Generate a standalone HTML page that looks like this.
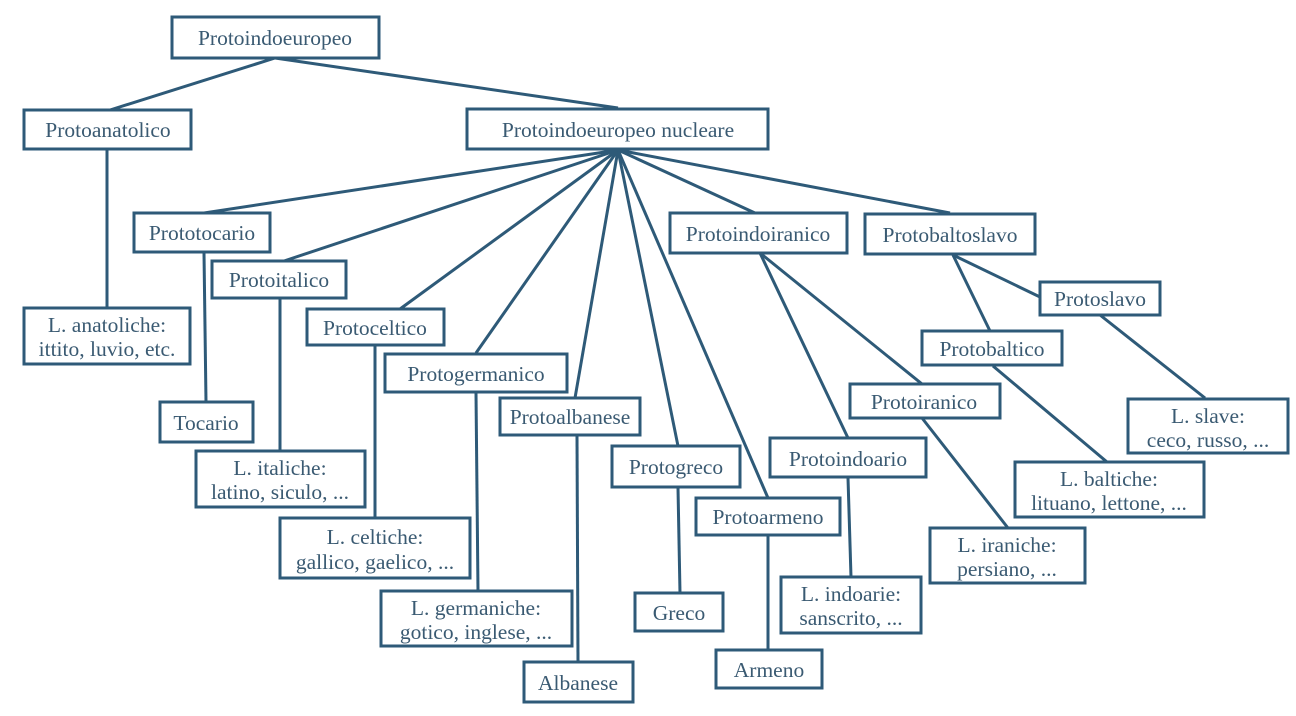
<!DOCTYPE html>
<html><head><meta charset="utf-8"><style>
html,body{margin:0;padding:0;background:#fff;}
svg{display:block}
text{font-family:"Liberation Serif",serif;font-size:21.5px;fill:#3a5a72;text-anchor:middle}
rect{fill:#fff;stroke:#2e5a78;stroke-width:3}
line{stroke:#2e5a78;stroke-width:3}
</style></head><body>
<svg width="1296" height="716" viewBox="0 0 1296 716">
<g>
<line x1="275" y1="58" x2="110" y2="110"/>
<line x1="275" y1="58" x2="618" y2="108"/>
<line x1="107" y1="150" x2="107" y2="308"/>
<line x1="618" y1="150" x2="204" y2="213"/>
<line x1="618" y1="150" x2="284" y2="261"/>
<line x1="618" y1="150" x2="400" y2="309"/>
<line x1="618" y1="150" x2="476" y2="353"/>
<line x1="618" y1="150" x2="575" y2="398"/>
<line x1="618" y1="150" x2="678" y2="446"/>
<line x1="618" y1="150" x2="768" y2="498"/>
<line x1="618" y1="150" x2="755" y2="213"/>
<line x1="618" y1="150" x2="950" y2="213"/>
<line x1="204" y1="253" x2="206" y2="402"/>
<line x1="280" y1="299" x2="280" y2="451"/>
<line x1="375" y1="346" x2="375" y2="518"/>
<line x1="476" y1="393" x2="478" y2="591"/>
<line x1="577" y1="436" x2="578" y2="662"/>
<line x1="678" y1="488" x2="680" y2="593"/>
<line x1="768" y1="536" x2="768" y2="650"/>
<line x1="760" y1="253" x2="848" y2="438"/>
<line x1="760" y1="253" x2="922" y2="384"/>
<line x1="953" y1="255" x2="990" y2="331"/>
<line x1="953" y1="255" x2="1040" y2="297"/>
<line x1="1100" y1="315" x2="1205" y2="398"/>
<line x1="993" y1="366" x2="1107" y2="462"/>
<line x1="922" y1="418" x2="1008" y2="528"/>
<line x1="848" y1="478" x2="851" y2="577"/>
</g>
<g>
<rect x="172" y="17" width="207" height="41"/><text x="275" y="45">Protoindoeuropeo</text>
<rect x="24" y="110" width="167" height="39"/><text x="108" y="137">Protoanatolico</text>
<rect x="467" y="109" width="301" height="40"/><text x="618" y="137">Protoindoeuropeo nucleare</text>
<rect x="134" y="213" width="136" height="39"/><text x="202" y="240">Prototocario</text>
<rect x="212" y="261" width="134" height="37"/><text x="279" y="287">Protoitalico</text>
<rect x="307" y="309" width="137" height="36"/><text x="375" y="335">Protoceltico</text>
<rect x="385" y="354" width="182" height="38"/><text x="476" y="381">Protogermanico</text>
<rect x="500" y="398" width="140" height="37"/><text x="570" y="424">Protoalbanese</text>
<rect x="612" y="446" width="128" height="41"/><text x="676" y="474">Protogreco</text>
<rect x="696" y="498" width="144" height="37"/><text x="768" y="524">Protoarmeno</text>
<rect x="670" y="213" width="177" height="40"/><text x="758" y="241">Protoindoiranico</text>
<rect x="865" y="214" width="170" height="40"/><text x="950" y="242">Protobaltoslavo</text>
<rect x="1040" y="282" width="120" height="33"/><text x="1100" y="306">Protoslavo</text>
<rect x="922" y="331" width="140" height="34"/><text x="992" y="356">Protobaltico</text>
<rect x="850" y="384" width="150" height="34"/><text x="924" y="409">Protoiranico</text>
<rect x="770" y="438" width="156" height="39"/><text x="848" y="466">Protoindoario</text>
<rect x="24" y="308" width="166" height="56"/><text x="107" y="332">L. anatoliche:</text><text x="107" y="356">ittito, luvio, etc.</text>
<rect x="160" y="402" width="93" height="40"/><text x="206" y="430">Tocario</text>
<rect x="196" y="451" width="169" height="56"/><text x="280" y="475">L. italiche:</text><text x="280" y="499">latino, siculo, ...</text>
<rect x="280" y="518" width="190" height="60"/><text x="375" y="544">L. celtiche:</text><text x="375" y="569">gallico, gaelico, ...</text>
<rect x="381" y="591" width="191" height="55"/><text x="476" y="615">L. germaniche:</text><text x="476" y="639">gotico, inglese, ...</text>
<rect x="524" y="662" width="109" height="40"/><text x="578" y="690">Albanese</text>
<rect x="635" y="593" width="88" height="38"/><text x="679" y="620">Greco</text>
<rect x="716" y="650" width="106" height="38"/><text x="769" y="677">Armeno</text>
<rect x="781" y="577" width="140" height="56"/><text x="851" y="601">L. indoarie:</text><text x="851" y="625">sanscrito, ...</text>
<rect x="930" y="528" width="155" height="55"/><text x="1007" y="552">L. iraniche:</text><text x="1007" y="576">persiano, ...</text>
<rect x="1015" y="462" width="189" height="55"/><text x="1109" y="486">L. baltiche:</text><text x="1109" y="510">lituano, lettone, ...</text>
<rect x="1128" y="399" width="160" height="54"/><text x="1208" y="423">L. slave:</text><text x="1208" y="447">ceco, russo, ...</text>
</g>
</svg>
</body></html>
